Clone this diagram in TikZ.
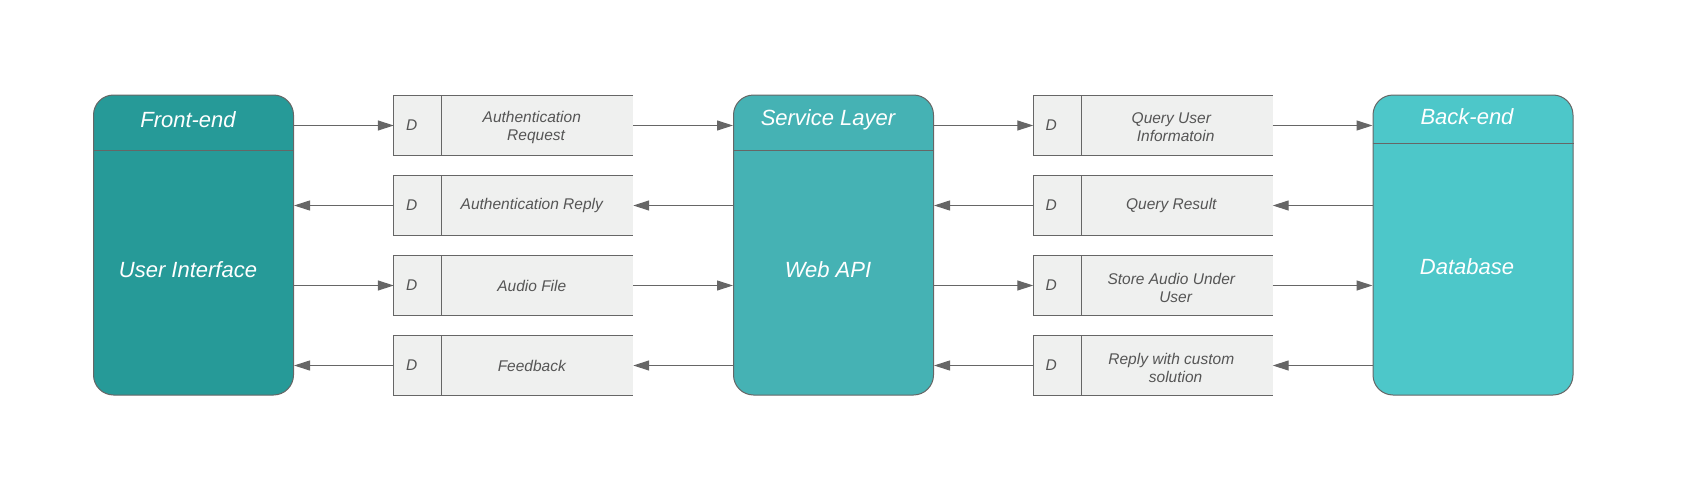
\documentclass[tikz,border=0pt]{standalone}
\usepackage{fontspec}
\setmainfont{Liberation Sans}
\usetikzlibrary{arrows.meta}
\definecolor{frontc}{RGB}{38,154,152}
\definecolor{servc}{RGB}{69,178,180}
\definecolor{backc}{RGB}{77,199,201}
\definecolor{linec}{RGB}{102,102,102}
\definecolor{dsfill}{RGB}{239,240,239}
\definecolor{dstext}{RGB}{85,85,85}
\begin{document}
\begin{tikzpicture}[x=1pt,y=-1pt,
  bigbox/.style={draw=linec, line width=1pt, rounded corners=20pt, minimum width=200pt, minimum height=300pt, inner sep=0pt},
  dsbox/.style={fill=dsfill, minimum width=239pt, minimum height=60pt, inner sep=0pt},
  dsline/.style={draw=linec, line width=1pt},
  titletext/.style={text=white, font=\fontsize{22}{26}\selectfont\itshape},
  dslabel/.style={text=dstext, font=\fontsize{15.5}{18}\selectfont\itshape, align=center},
  arr/.style={draw=linec, line width=1.1pt, -{Triangle[length=16pt,width=10pt]}}
]
\useasboundingbox (0,0) rectangle (1683,487);

% big boxes
\node[bigbox, fill=frontc] (fe) at (193.5,245) {};
\node[bigbox, fill=servc] (sl) at (833.5,245) {};
\node[bigbox, fill=backc] (be) at (1473,245) {};
\draw[dsline] (fe.west |- 0,150) -- (fe.east |- 0,150);
\draw[dsline] (sl.west |- 0,150) -- (sl.east |- 0,150);
\draw[dsline] (be.west |- 0,143) -- (be.east |- 0,143);

\node[titletext] (fet) at (188,120) {Front-end};
\node[titletext] (slt) at (828,120) {Service Layer};
\node[titletext] (bet) at (1467,117) {Back-end};
\node[titletext] (feb) at (188,270) {User Interface};
\node[titletext] (slb) at (828,270) {Web API};
\node[titletext] (beb) at (1467,267) {Database};

% data stores
\foreach \n/\x/\y in {a1/513.5/125.5, a2/513.5/205.5, a3/513.5/285.5, a4/513.5/365.5,
                      b1/1153/125.5, b2/1153/205.5, b3/1153/285.5, b4/1153/365.5} {
  \node[dsbox] (\n) at (\x,\y) {};
  \draw[dsline] (\n.north east) -- (\n.north west) -- (\n.south west) -- (\n.south east);
  \draw[dsline] ([xshift=48pt]\n.north west) -- ([xshift=48pt]\n.south west);
  \node[dslabel] (\n d) at ([xshift=18pt]\n.west) {D};
}
\node[dslabel] (a1t) at ([xshift=138pt,yshift=-2pt]a1.west) {Authentication\\ \ \ Request};
\node[dslabel] (a2t) at ([xshift=138pt]a2.west) {Authentication Reply};
\node[dslabel] (a3t) at ([xshift=138pt]a3.west) {Audio File};
\node[dslabel] (a4t) at ([xshift=138pt]a4.west) {Feedback};
\node[dslabel] (b1t) at ([xshift=138pt,yshift=-2pt]b1.west) {Query User\\ \ \ Informatoin};
\node[dslabel] (b2t) at ([xshift=138pt]b2.west) {Query Result};
\node[dslabel] (b3t) at ([xshift=138pt,yshift=-2pt]b3.west) {Store Audio Under\\ \ \ User};
\node[dslabel] (b4t) at ([xshift=138pt,yshift=-2pt]b4.west) {Reply with custom\\ \ \ solution};

% arrows left side
\draw[arr] (fe.east |- a1) -- (a1.west);
\draw[arr] (a1.east) -- (sl.west |- a1);
\draw[arr] (sl.west |- a2) -- (a2.east);
\draw[arr] (a2.west) -- (fe.east |- a2);
\draw[arr] (fe.east |- a3) -- (a3.west);
\draw[arr] (a3.east) -- (sl.west |- a3);
\draw[arr] (sl.west |- a4) -- (a4.east);
\draw[arr] (a4.west) -- (fe.east |- a4);
% arrows right side
\draw[arr] (sl.east |- b1) -- (b1.west);
\draw[arr] (b1.east) -- (be.west |- b1);
\draw[arr] (be.west |- b2) -- (b2.east);
\draw[arr] (b2.west) -- (sl.east |- b2);
\draw[arr] (sl.east |- b3) -- (b3.west);
\draw[arr] (b3.east) -- (be.west |- b3);
\draw[arr] (be.west |- b4) -- (b4.east);
\draw[arr] (b4.west) -- (sl.east |- b4);
\end{tikzpicture}
\end{document}
